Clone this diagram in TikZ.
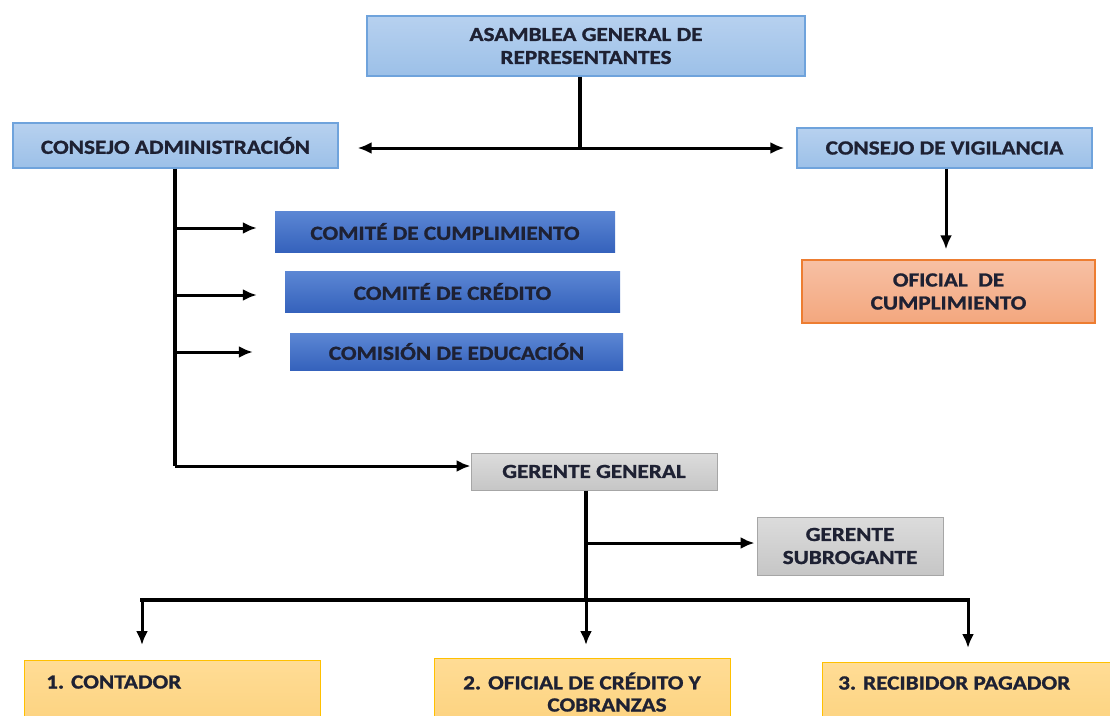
\documentclass[tikz,border=0pt]{standalone}
\usepackage{fontspec}
\setmainfont{Carlito}
\newfontfamily\boxfont{Carlito}[FakeStretch=1.16, BoldFeatures={FakeBold=1.2}]
\usetikzlibrary{arrows.meta,calc}
\definecolor{txt}{HTML}{1E2133}
\tikzset{
  box/.style={rectangle, inner sep=0pt, font=\boxfont\bfseries\fontsize{20}{23}\selectfont, text=txt, align=center},
  lblue/.style={box, top color=lbtop, bottom color=lbbot, draw=lbdraw, line width=1.2pt},
  dblue/.style={box, top color=dbtop, bottom color=dbbot, draw=none},
  gray/.style={box, top color=grtop, bottom color=grbot, draw=grdraw, line width=1pt},
  salmon/.style={box, top color=satop, bottom color=sabot, draw=sadraw, line width=1.2pt},
  yellowbox/.style={rectangle, inner sep=0pt, top color=yetop, bottom color=yebot, draw=yedraw, line width=1.2pt},
  ytext/.style={inner sep=0pt, font=\boxfont\bfseries\fontsize{20}{23}\selectfont, text=txt},
  conn/.style={line width=3.2pt, black},
  arr/.style={line width=3pt, black, -{Latex[length=14pt,width=12pt]}},
  darr/.style={line width=3pt, black, {Latex[length=14pt,width=12pt]}-{Latex[length=14pt,width=12pt]}}
}
\definecolor{lbtop}{HTML}{B7D1EF}\definecolor{lbbot}{HTML}{9CC0E8}\definecolor{lbdraw}{HTML}{6FA3DC}
\definecolor{dbtop}{HTML}{5C87D4}\definecolor{dbbot}{HTML}{3562BC}
\definecolor{grtop}{HTML}{DCDCDC}\definecolor{grbot}{HTML}{C6C6C6}\definecolor{grdraw}{HTML}{A6A6A6}
\definecolor{satop}{HTML}{F7C0A4}\definecolor{sabot}{HTML}{F3A77E}\definecolor{sadraw}{HTML}{ED7D31}
\definecolor{yetop}{HTML}{FFDC95}\definecolor{yebot}{HTML}{FCD27E}\definecolor{yedraw}{HTML}{FFC000}
\begin{document}
\begin{tikzpicture}[x=1pt,y=-1pt]
\useasboundingbox (0,0) rectangle (1110,715);
% nodes
\node[lblue, minimum width=438pt, minimum height=60pt] (asam) at (586,46) {ASAMBLEA GENERAL DE\\REPRESENTANTES};
\node[lblue, minimum width=325pt, minimum height=45pt] (cadm) at (175.5,145.5) {CONSEJO ADMINISTRACIÓN};
\node[lblue, minimum width=295pt, minimum height=40pt] (cvig) at (944.5,148) {CONSEJO DE VIGILANCIA};
\node[salmon, minimum width=293pt, minimum height=63pt] (ofc) at (948.5,291.5) {OFICIAL\ \ DE\\CUMPLIMIENTO};
\node[dblue, minimum width=340pt, minimum height=41pt] (com1) at (445,231.5) {COMITÉ DE CUMPLIMIENTO};
\node[dblue, minimum width=335pt, minimum height=41pt] (com2) at (452.5,291.5) {COMITÉ DE CRÉDITO};
\node[dblue, minimum width=333pt, minimum height=37pt] (com3) at (456.5,351.5) {COMISIÓN DE EDUCACIÓN};
\node[gray, minimum width=246pt, minimum height=37pt] (gg) at (594,471.5) {GERENTE GENERAL};
\node[gray, minimum width=186pt, minimum height=58pt] (gs) at (850,546) {GERENTE\\SUBROGANTE};
\node[yellowbox, anchor=north west, minimum width=296pt, minimum height=70pt] (b1) at (24,660) {};
\node[yellowbox, anchor=north west, minimum width=296pt, minimum height=70pt] (b2) at (434,658) {};
\node[yellowbox, anchor=north west, minimum width=288pt, minimum height=70pt] (b3) at (822,662) {};
\node[ytext, anchor=west] (b1t) at (46,682) {1. CONTADOR};
\node[ytext, anchor=west] (b2t) at (463,681) {2. OFICIAL DE CRÉDITO Y};
\node[ytext] (b2u) at (607,705) {COBRANZAS};
\node[ytext, anchor=west] (b3t) at (838,683) {3. RECIBIDOR PAGADOR};
% coordinates
\coordinate (j1) at (580,148);
\coordinate (k) at (175,466);
\coordinate (g1) at (586,543);
\coordinate (bus) at (586,600);
\coordinate (busl) at (142,600);
\coordinate (busr) at (968,600);
% connectors
\draw[conn] (asam.south -| j1) -- (j1);
\draw[darr, shorten <=19pt, shorten >=12pt] (cadm.east |- j1) -- (cvig.west |- j1);
\draw[arr, shorten >=10pt] (cvig.south -| 946,0) -- (ofc.north -| 946,0);
\draw[conn] (cadm.south -| k) -- (k);
\draw[arr] (k) -- (gg.west |- k);
\draw[arr, shorten >=18pt] (175,228) -- (com1.west |- 0,228);
\draw[arr, shorten >=28pt] (175,295) -- (com2.west |- 0,295);
\draw[arr, shorten >=37pt] (175,352) -- (com3.west |- 0,352);
\draw[conn] (gg.south -| bus) -- (bus);
\draw[arr, shorten >=2pt] (g1) -- (gs.west |- g1);
\draw[conn, line cap=rect] (busl) -- (busr);
\draw[arr, shorten >=15pt] (busl) -- (b1.north -| busl);
\draw[arr, shorten >=13pt] (bus) -- (b2.north -| bus);
\draw[arr, shorten >=14pt] (busr) -- (b3.north -| busr);
\end{tikzpicture}
\end{document}
